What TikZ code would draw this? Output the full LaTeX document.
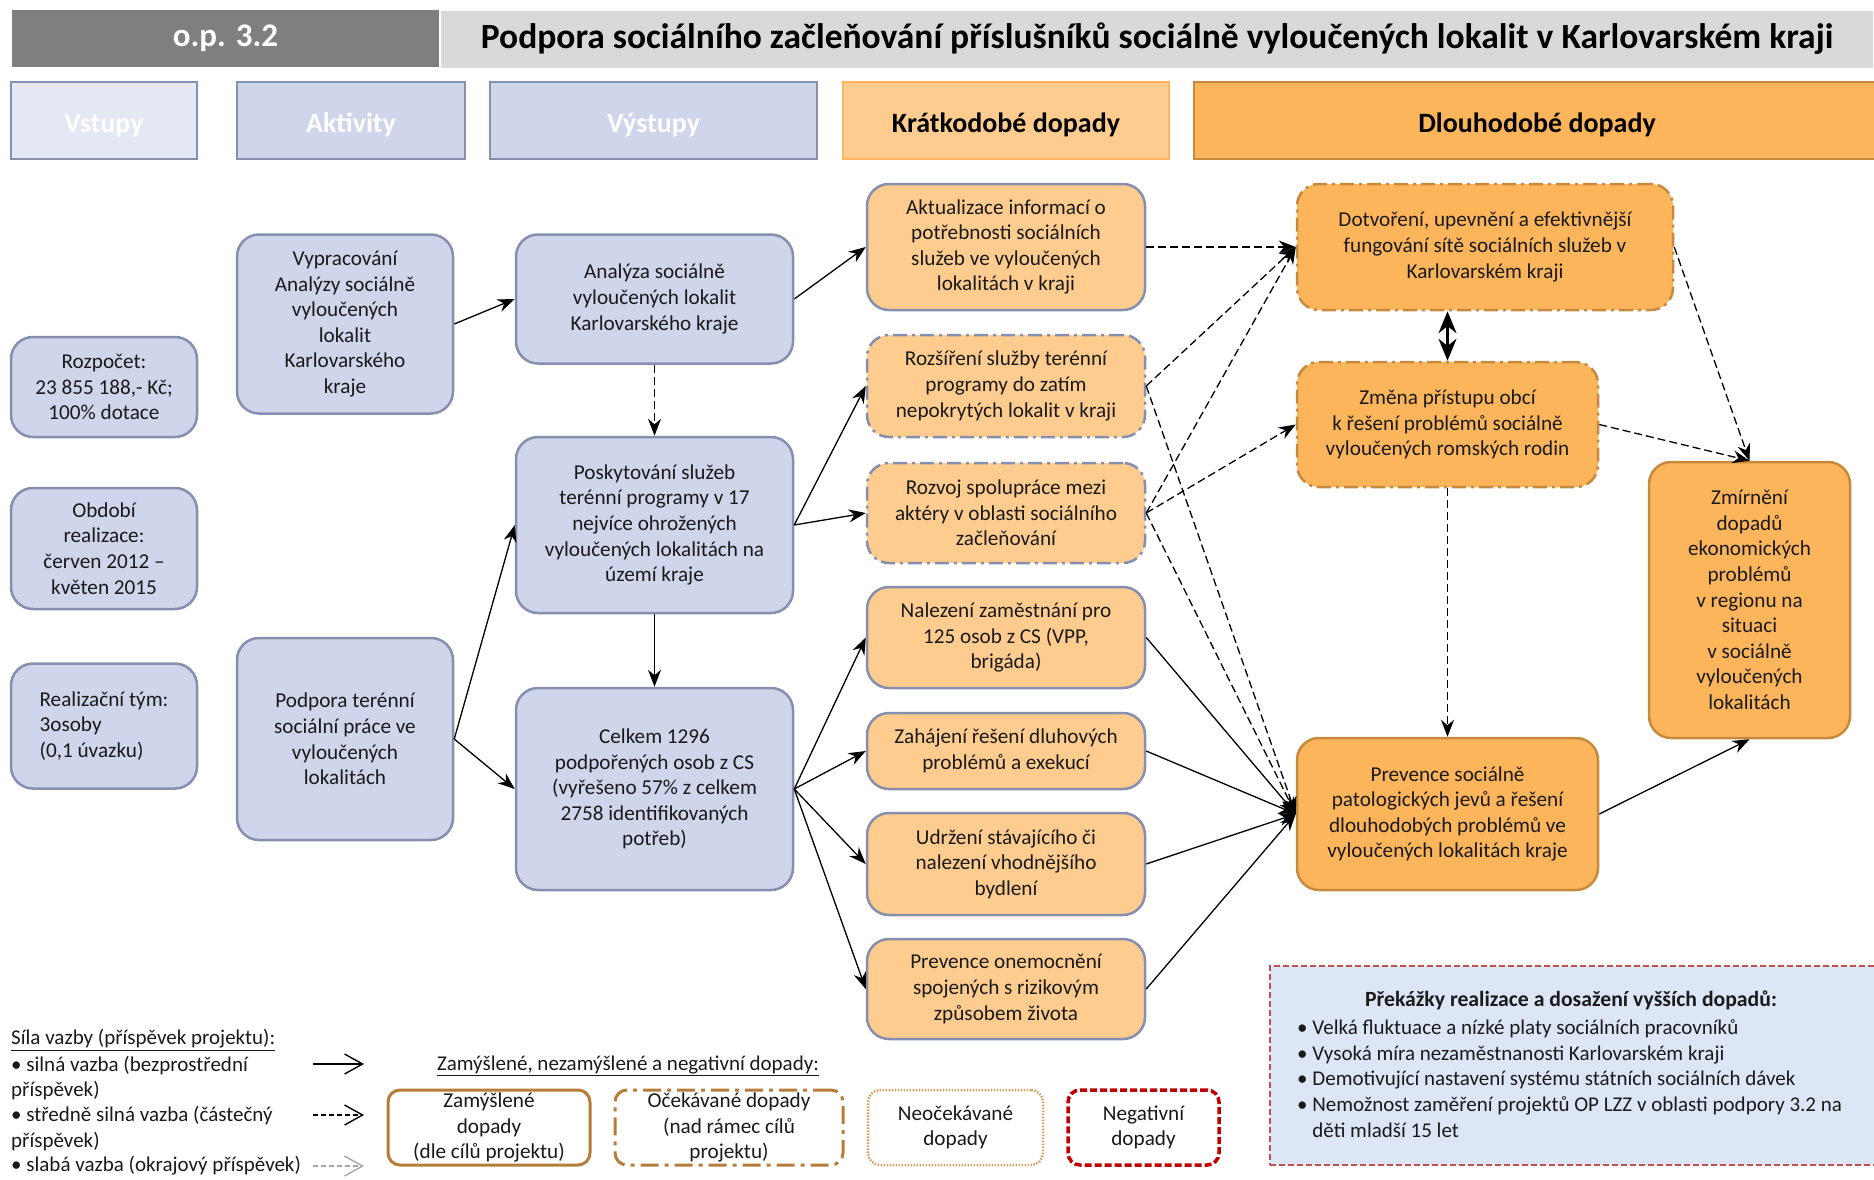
\documentclass[tikz,border=0pt]{standalone}
\usepackage{fontspec}
\setmainfont{Carlito}
\usetikzlibrary{arrows.meta}
\definecolor{hdark}{HTML}{7F7F7F}
\definecolor{hlight}{HTML}{D9D9D9}
\definecolor{bfill}{HTML}{CFD5EA}
\definecolor{bfillL}{HTML}{E4E8F4}
\definecolor{bbord}{HTML}{8690AE}
\definecolor{ofillL}{HTML}{FFCC8F}
\definecolor{ofill}{HTML}{FDB55B}
\definecolor{obord}{HTML}{C68A3E}
\definecolor{obordL}{HTML}{FFB55A}
\definecolor{lbrown}{HTML}{B57C3A}
\definecolor{ldot}{HTML}{D4A060}
\definecolor{negred}{HTML}{C00000}
\definecolor{obsfill}{HTML}{DCE6F7}
\definecolor{obsred}{HTML}{C0504D}
\definecolor{txt}{HTML}{1A1A1A}
\definecolor{weakgray}{HTML}{A6A6A6}
\tikzset{
  sz/.style 2 args={minimum width=#1, minimum height=#2},
  base/.style={font=\fontsize{21.2}{25.6}\selectfont, align=center, inner sep=0pt, text=txt, rounded corners=22pt, line width=2.5pt},
  bnode/.style={base, draw=bbord, fill=bfill},
  snode/.style={base, draw=bbord, fill=ofillL},
  lnode/.style={base, draw=obord, fill=ofill},
  dashdot/.style={dash pattern=on 14pt off 5pt on 3pt off 5pt},
  hdr/.style={line width=2.5pt, font=\fontsize{28}{32}\selectfont\bfseries, inner sep=0pt, text height=23pt, text depth=0pt},
  conn/.style={line width=1.3pt, -{Stealth[length=17pt,width=13pt]}},
  dconn/.style={conn, dash pattern=on 8pt off 4pt},
  plain/.style={font=\fontsize{21}{25.6}\selectfont, inner sep=0pt, text=txt},
  legarrow/.style={line width=1.4pt, -{Straight Barb[length=18pt,width=20pt]}},
  legbox/.style={base, fill=white, line width=3pt, rounded corners=12pt}
}
\begin{document}
\begin{tikzpicture}[x=1pt,y=-1pt]
\useasboundingbox (0,0) rectangle (1874,1179);
% title bar
\node[fill=hdark, sz={427}{57}, inner sep=0pt, text=white, font=\fontsize{33}{38}\selectfont\bfseries] (op) at (225.5,38.5) {o.p. 3.2};
\node[fill=hlight, sz={1432}{57}, inner sep=0pt, text=black, font=\fontsize{35.5}{40}\selectfont\bfseries] (title) at (1157,39) {Podpora sociálního začleňování příslušníků sociálně vyloučených lokalit v Karlovarském kraji};
% column headers
\node[hdr, fill=bfillL, draw=bbord, text=white, sz={186}{77}] (h1) at (104,120.5) {Vstupy};
\node[hdr, fill=bfill, draw=bbord, text=white, sz={228}{77}] (h2) at (351,120.5) {Aktivity};
\node[hdr, fill=bfill, draw=bbord, text=white, sz={327}{77}] (h3) at (653.5,120.5) {Výstupy};
\node[hdr, fill=ofillL, draw=obordL, text=black, sz={326}{77}] (h4) at (1006,120.5) {Krátkodobé dopady};
\node[hdr, fill=ofill, draw=obord, text=black, sz={686}{77}] (h5) at (1537,120.5) {Dlouhodobé dopady};
% inputs
\node[bnode, sz={186}{100}] (rozp) at (104,387) {Rozpočet:\\23 855 188,- Kč;\\100\% dotace};
\node[bnode, sz={186}{121}] (obd) at (104,548.5) {Období\\realizace:\\červen 2012 –\\květen 2015};
\node[bnode, sz={186}{125}, align=left] (tym) at (104,726) {Realizační tým:\\3osoby\\(0,1 úvazku)};
% activities
\node[bnode, sz={216}{179}] (vyp) at (345,324) {Vypracování\\Analýzy sociálně\\vyloučených\\lokalit\\Karlovarského\\kraje};
\node[bnode, sz={216}{202}] (pod) at (345,739) {Podpora terénní\\sociální práce ve\\vyloučených\\lokalitách};
% outputs
\node[bnode, sz={277}{129}] (ana) at (654.5,299) {Analýza sociálně\\vyloučených lokalit\\Karlovarského kraje};
\node[bnode, sz={277}{176}] (posk) at (654.5,525) {Poskytování služeb\\terénní programy v 17\\nejvíce ohrožených\\vyloučených lokalitách na\\území kraje};
\node[bnode, sz={277}{202}] (cel) at (654.5,789) {Celkem 1296\\podpořených osob z CS\\(vyřešeno 57\% z celkem\\2758 identifikovaných\\potřeb)};
% short-term
\node[snode, sz={278}{126}] (akt) at (1006,247) {Aktualizace informací o\\potřebnosti sociálních\\služeb ve vyloučených\\lokalitách v kraji};
\node[snode, dashdot, sz={278}{102}] (roz) at (1006,386) {Rozšíření služby terénní\\programy do zatím\\nepokrytých lokalit v kraji};
\node[snode, dashdot, sz={278}{100}] (rvj) at (1006,513) {Rozvoj spolupráce mezi\\aktéry v oblasti sociálního\\začleňování};
\node[snode, sz={278}{101}] (nal) at (1006,637.5) {Nalezení zaměstnání pro\\125 osob z CS (VPP,\\brigáda)};
\node[snode, sz={278}{76}] (zah) at (1006,751) {Zahájení řešení dluhových\\problémů a exekucí};
\node[snode, sz={278}{102}] (udr) at (1006,864) {Udržení stávajícího či\\nalezení vhodnějšího\\bydlení};
\node[snode, sz={278}{100}] (pon) at (1006,989) {Prevence onemocnění\\spojených s rizikovým\\způsobem života};
% long-term
\node[lnode, dashdot, sz={376}{126}] (dot) at (1485,247) {Dotvoření, upevnění a efektivnější\\fungování sítě sociálních služeb v\\Karlovarském kraji};
\node[lnode, dashdot, sz={301}{125}] (zme) at (1447.5,424.5) {Změna přístupu obcí\\k řešení problémů sociálně\\vyloučených romských rodin};
\node[lnode, sz={301}{152}] (prs) at (1447.5,814) {Prevence sociálně\\patologických jevů a řešení\\dlouhodobých problémů ve\\vyloučených lokalitách kraje};
\node[lnode, sz={201}{276}] (zmi) at (1749.5,600) {Zmírnění\\dopadů\\ekonomických\\problémů\\v regionu na\\situaci\\v sociálně\\vyloučených\\lokalitách};
% connectors
\draw[conn] (vyp.east) -- (ana.west);
\draw[dconn] (ana.south) -- (posk.north);
\draw[conn] (posk.south) -- (cel.north);
\draw[conn] (pod.east) -- (posk.west);
\draw[conn] (pod.east) -- (cel.west);
\draw[conn] (ana.east) -- (akt.west);
\draw[conn] (posk.east) -- (roz.west);
\draw[conn] (posk.east) -- (rvj.west);
\draw[conn] (cel.east) -- (nal.west);
\draw[conn] (cel.east) -- (zah.west);
\draw[conn] (cel.east) -- (udr.west);
\draw[conn] (cel.east) -- (pon.west);
\draw[dconn] (akt.east) -- (dot.west);
\draw[dconn] (roz.east) -- (dot.west);
\draw[dconn] (roz.east) -- (prs.west);
\draw[dconn] (rvj.east) -- (dot.west);
\draw[dconn] (rvj.east) -- (zme.west);
\draw[dconn] (rvj.east) -- (prs.west);
\draw[conn] (nal.east) -- (prs.west);
\draw[conn] (zah.east) -- (prs.west);
\draw[conn] (udr.east) -- (prs.west);
\draw[conn] (pon.east) -- (prs.west);
\draw[line width=2.5pt, {Stealth[length=22pt,width=18pt]}-{Stealth[length=22pt,width=18pt]}] (zme.north |- dot.south) -- (zme.north);
\draw[dconn] (dot.east) -- (zmi.north);
\draw[dconn] (zme.east) -- (zmi.north);
\draw[dconn] (zme.south) -- (prs.north);
\draw[conn] (prs.east) -- (zmi.south);
% legend: link strength
\node[plain, anchor=west] (l0) at (11,1040) {\underline{Síla vazby (příspěvek projektu):}};
\node[plain, anchor=west] (l1) at (11,1065) {• silná vazba (bezprostřední};
\node[plain, anchor=west] (l2) at (11,1090) {příspěvek)};
\node[plain, anchor=west] (l3) at (11,1115) {• středně silná vazba (částečný};
\node[plain, anchor=west] (l4) at (11,1141) {příspěvek)};
\node[plain, anchor=west] (l5) at (11,1166) {• slabá vazba (okrajový příspěvek)};
\coordinate (a1s) at (313,1064); \coordinate (a1e) at (364,1064);
\coordinate (a2s) at (313,1115); \coordinate (a2e) at (364,1115);
\coordinate (a3s) at (313,1166); \coordinate (a3e) at (364,1166);
\draw[legarrow] (a1s) -- (a1e);
\draw[legarrow, dash pattern=on 5pt off 3pt] (a2s) -- (a2e);
\draw[legarrow, weakgray, dash pattern=on 5pt off 3pt] (a3s) -- (a3e);
% legend: impact types
\node[plain] (lt) at (628,1066) {\underline{Zamýšlené, nezamýšlené a negativní dopady:}};
\node[legbox, draw=lbrown, sz={202}{75}] (lb1) at (489,1127.5) {Zamýšlené\\dopady\\(dle cílů projektu)};
\node[legbox, draw=lbrown, dash pattern=on 18pt off 6pt on 4pt off 6pt, sz={228}{75}] (lb2) at (729,1127.5) {Očekávané dopady\\(nad rámec cílů\\projektu)};
\node[legbox, draw=ldot, line width=2.5pt, dash pattern=on 1.5pt off 1.5pt, sz={175}{75}] (lb3) at (955.5,1127.5) {Neočekávané\\dopady};
\node[legbox, draw=negred, line width=3.5pt, dash pattern=on 7pt off 3pt, sz={151}{75}] (lb4) at (1143.5,1127.5) {Negativní\\dopady};
% obstacles
\node[fill=obsfill, draw=obsred, line width=1.8pt, dash pattern=on 6pt off 3pt, sz={612}{199}, inner sep=0pt] (obs) at (1576,1065.5) {};
\node[plain, font=\fontsize{21.7}{25.6}\selectfont\bfseries] (obst) at (1571,1000) {Překážky realizace a dosažení vyšších dopadů:};
\node[plain, align=left, anchor=west] (obsl) at (1297,1078.5) {• Velká fluktuace a nízké platy sociálních pracovníků\\• Vysoká míra nezaměstnanosti Karlovarském kraji\\• Demotivující nastavení systému státních sociálních dávek\\• Nemožnost zaměření projektů OP LZZ v oblasti podpory 3.2 na\\\phantom{• }děti mladší 15 let};
\end{tikzpicture}
\end{document}
